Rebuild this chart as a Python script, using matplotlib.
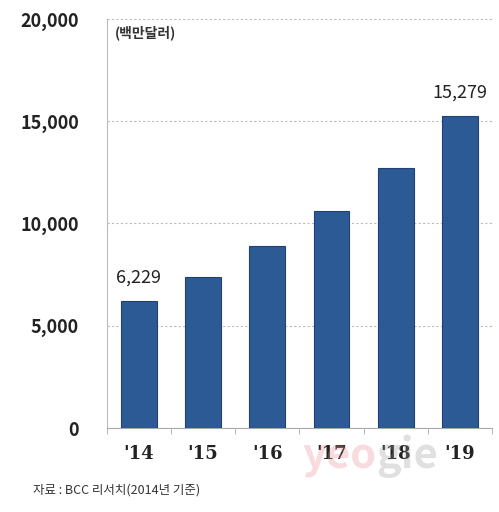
import numpy as np
import matplotlib.pyplot as plt

plt.rcParams['font.family'] = ['Noto Sans CJK KR', 'DejaVu Sans']

years = ["'14", "'15", "'16", "'17", "'18", "'19"]
values = [6229, 7400, 8900, 10600, 12700, 15279]
labels = {0: '6,229', 5: '15,279'}

fig = plt.figure(figsize=(4.99, 5.12), dpi=100)
ax = fig.add_axes([0.214, 0.164, 0.772, 0.799])

x = np.arange(len(years))
ax.bar(x, values, width=0.56, color='#2c5a95', edgecolor='#1f4272', linewidth=0.8, zorder=3)

for i, t in labels.items():
    ax.text(x[i], values[i] + 700, t, ha='center', va='bottom', fontsize=13, color='#222222')

ax.set_xlim(-0.5, 5.5)
ax.set_ylim(0, 20000)
ax.set_yticks([0, 5000, 10000, 15000, 20000])
ax.set_yticklabels(['0', '5,000', '10,000', '15,000', '20,000'], fontsize=13, fontweight='bold', color='#222222')
ax.set_xticks(x)
ax.set_xticklabels(years, fontsize=13, fontweight='bold', family='DejaVu Serif', color='#222222')
ax.set_xticks(np.arange(-0.5, 6, 1), minor=True)
ax.tick_params(axis='x', which='major', length=0, pad=12)
ax.tick_params(axis='x', which='minor', length=4, color='#aaaaaa', direction='out')
ax.tick_params(axis='y', length=0, pad=20)

ax.grid(axis='y', color='#bbbbbb', linestyle=(0, (2, 2)), linewidth=0.8, zorder=0)
for s in ['top', 'right']:
    ax.spines[s].set_visible(False)
ax.spines['left'].set_color('#bbbbbb')
ax.spines['bottom'].set_color('#aaaaaa')

ax.text(0.02, 0.985, '(백만달러)', transform=ax.transAxes, ha='left', va='top', fontsize=10, fontweight='bold', color='#333333')

fig.text(0.066, 0.037, '자료 : BCC 리서치(2014년 기준)', fontsize=9, color='#333333')
# watermark
fig.text(0.755, 0.085, 'yeo', fontsize=30, fontweight='bold', color='#e88a92', alpha=0.3, ha='right', zorder=0)
fig.text(0.755, 0.085, 'gie', fontsize=30, fontweight='bold', color='#999999', alpha=0.3, ha='left', zorder=0)

plt.savefig('out.png', dpi=100)
